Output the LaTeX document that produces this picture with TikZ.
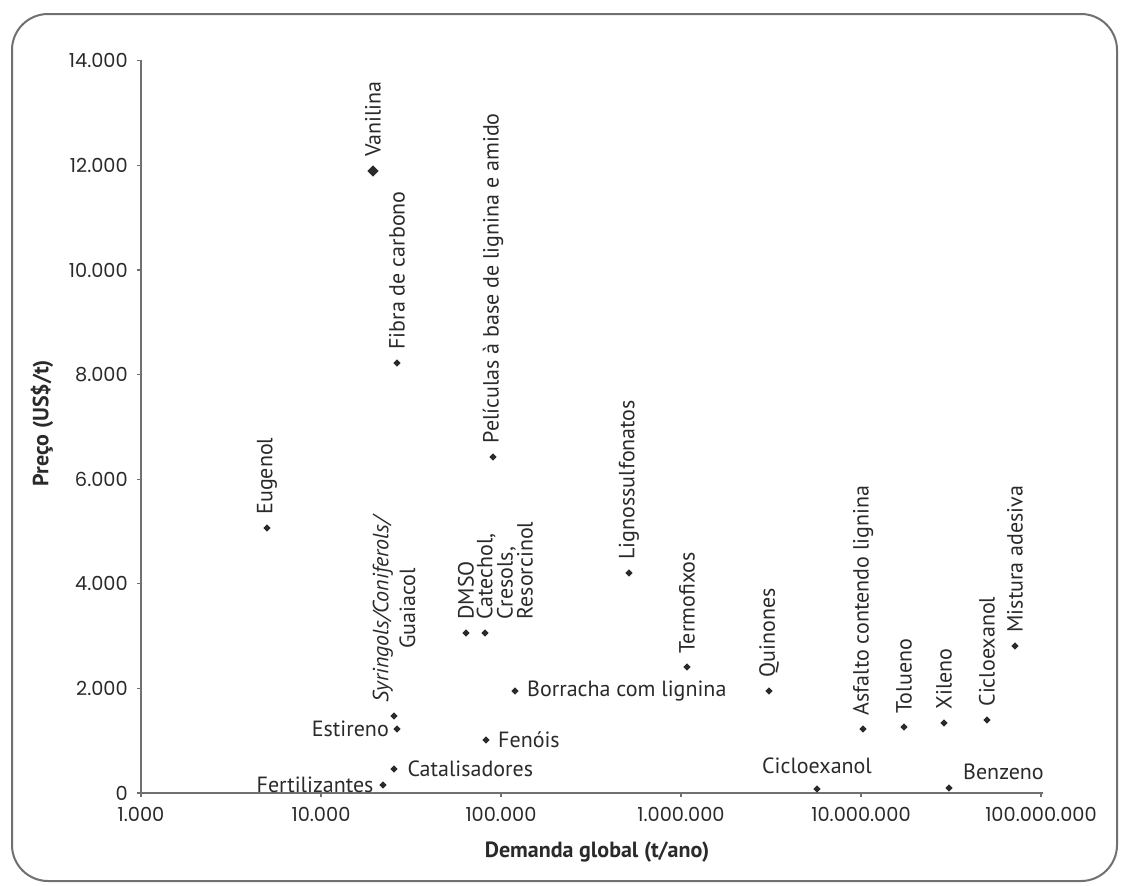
\documentclass[tikz,border=0pt]{standalone}
\usepackage{fontspec}
\setmainfont{PT Sans}
\newfontfamily\tickfont{Poppins}
\usetikzlibrary{shapes.geometric,positioning}

\definecolor{axisgray}{HTML}{707070}
\definecolor{inkgray}{HTML}{2A2A2A}

\begin{document}
\begin{tikzpicture}[x=0.75pt, y=-0.75pt,
    dot/.style={diamond, fill=inkgray, inner sep=0pt, minimum size=5.5pt},
    bigdot/.style={dot, minimum size=8.5pt},
    lbl/.style={text=inkgray, font=\fontsize{16.5}{19}\selectfont, inner sep=0pt},
    vlbl/.style={lbl, rotate=90, anchor=west},
    ticklbl/.style={text=inkgray, font=\tickfont\fontsize{14.5}{16}\selectfont, inner sep=0pt},
    axtitle/.style={text=inkgray, font=\bfseries\fontsize{16.5}{18}\selectfont, inner sep=0pt},
    axisline/.style={axisgray, line width=1.5pt}]
    \useasboundingbox (0,0) rectangle (1124,885);
    \draw[axisgray, line width=1.5pt, rounded corners=27pt] (12,14) rectangle (1117,881);

    % axes
    \coordinate (ytop) at (141,60);
    \coordinate (orig) at (141,793);
    \coordinate (xend) at (1043,793);
    \draw[axisline] (ytop) -- (orig) -- (xend);
    \foreach \k/\lab in {0/0, 1/2.000, 2/4.000, 3/6.000, 4/8.000, 5/10.000, 6/12.000, 7/14.000} {
        \draw[axisgray, line width=1pt] (137,793-104.6*\k) -- (141,793-104.6*\k);
        \node[ticklbl, anchor=east] (yl\k) at (128,793-104.6*\k) {\lab};
    }
    \foreach \k/\lab in {0/1.000, 1/10.000, 2/100.000, 3/1.000.000, 4/10.000.000, 5/100.000.000} {
        \draw[axisgray, line width=1pt] (141+180*\k,793) -- (141+180*\k,797);
        \node[ticklbl] (xl\k) at (141+180*\k,814) {\lab};
    }
    \node[axtitle] (xt) at (597,852) {Demanda global (t/ano)};
    \node[axtitle, rotate=90] (yt) at (42,423) {Preço (US\$/t)};

    % data points
    \node[bigdot] (van) at (373,171) {};
    \node[dot] (fib) at (397,363) {};
    \node[dot] (pel) at (493,457) {};
    \node[dot] (eug) at (267,528) {};
    \node[dot] (syr) at (394,716) {};
    \node[dot] (est) at (397,729) {};
    \node[dot] (cat) at (394,769) {};
    \node[dot] (fer) at (383,785) {};
    \node[dot] (fen) at (486,740) {};
    \node[dot] (bor) at (515,691) {};
    \node[dot] (dms) at (466,633) {};
    \node[dot] (cre) at (485,633) {};
    \node[dot] (lig) at (629,573) {};
    \node[dot] (ter) at (687,667) {};
    \node[dot] (qui) at (769,691) {};
    \node[dot] (asf) at (863,729) {};
    \node[dot] (tol) at (904,727) {};
    \node[dot] (xil) at (944,723) {};
    \node[dot] (cix) at (987,720) {};
    \node[dot] (mis) at (1015,646) {};
    \node[dot] (cib) at (817,789) {};
    \node[dot] (ben) at (949,788) {};

    % labels
    \node[vlbl] (vanL) at ([yshift=6pt]van.north) {Vanilina};
    \node[vlbl] (fibL) at ([yshift=7pt]fib.north) {Fibra de carbono};
    \node[vlbl] (pelL) at ([yshift=7pt]pel.north) {Películas à base de lignina e amido};
    \node[vlbl] (eugL) at ([yshift=7pt]eug.north) {Eugenol};
    \node[vlbl, align=center, font=\fontsize{16.5}{20}\selectfont] (syrL) at ([yshift=7pt]syr.north) {\textit{Syringols/Coniferols/}\\Guaiacol};
    \node[lbl, left=3pt of est] (estL) {Estireno};
    \node[lbl, right=7pt of cat] (catL) {Catalisadores};
    \node[lbl, left=4pt of fer] (ferL) {Fertilizantes};
    \node[lbl, right=6pt of fen] (fenL) {Fenóis};
    \node[lbl, right=6pt of bor] (borL) {Borracha com lignina};
    \node[vlbl] (dmsL) at ([yshift=7pt]dms.north) {DMSO};
    \node[vlbl, anchor=north west, align=left, font=\fontsize{16.5}{13}\selectfont] (creL) at ([xshift=-6.5pt,yshift=7pt]cre.north) {Catechol,\\Cresols,\\Resorcinol};
    \node[vlbl] (ligL) at ([yshift=7pt]lig.north) {Lignossulfonatos};
    \node[vlbl] (terL) at ([yshift=7pt]ter.north) {Termofixos};
    \node[vlbl] (quiL) at ([yshift=7pt]qui.north) {Quinones};
    \node[vlbl] (asfL) at ([yshift=7pt]asf.north) {Asfalto contendo lignina};
    \node[vlbl] (tolL) at ([yshift=7pt]tol.north) {Tolueno};
    \node[vlbl] (xilL) at ([yshift=7pt]xil.north) {Xileno};
    \node[vlbl] (cixL) at ([yshift=7pt]cix.north) {Cicloexanol};
    \node[vlbl] (misL) at ([yshift=7pt]mis.north) {Mistura adesiva};
    \node[lbl, above=8pt of cib] (cibL) {Cicloexanol};
    \node[lbl, anchor=south west] (benL) at ([xshift=7.5pt,yshift=6pt]ben.east) {Benzeno};
\end{tikzpicture}
\end{document}
